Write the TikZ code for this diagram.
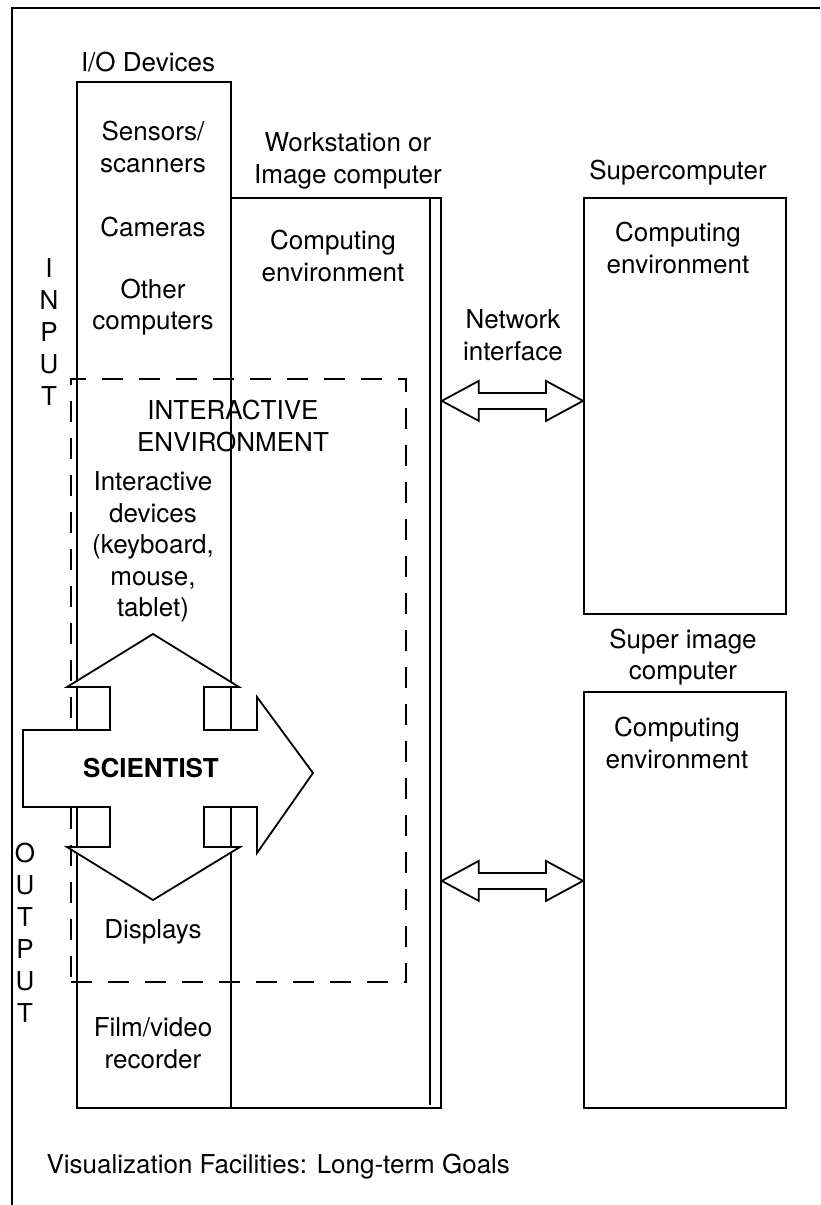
\documentclass[tikz,border=0pt]{standalone}
\usepackage{fontspec}
\setmainfont{TeX Gyre Heros}
\usetikzlibrary{positioning, calc}
\tikzstyle{box}=[rectangle, draw, line width=1.8pt, anchor=north west, inner sep=0pt]
\tikzstyle{dashedbox}=[line width=1.9pt, dash pattern=on 21pt off 16pt]
\tikzstyle{txt}=[align=center, font=\fontsize{26}{31.5}\selectfont]
\tikzstyle{boldtxt}=[align=center, font=\fontsize{26}{31.5}\selectfont\bfseries]
\tikzstyle{letters}=[align=center, font=\fontsize{26}{32}\selectfont]
\tikzstyle{linkarrow}=[draw, line width=1.8pt, fill=white, line join=miter]

% hollow two-headed arrow between two points of equal height
\newcommand{\netlink}[2]{%
  \draw[linkarrow] (#1) -- ++(37,-20) -- ++(0,12) -- ($(#2)+(-37,-8)$)
    -- ++(0,-12) -- (#2) -- ++(-37,20) -- ++(0,-12) -- ($(#1)+(37,8)$)
    -- ++(0,12) -- cycle;}

\begin{document}
\begin{tikzpicture}[x=1pt, y=-1pt]
    \useasboundingbox (0,0) rectangle (820,1205);
    % Frame
    \draw[line width=1.8pt] (820,8) -- (12,8) -- (12,1205);

    % Boxes
    \node[box, minimum width=154pt, minimum height=1026pt] (io) at (76,81) {};
    \node[box, minimum width=210pt, minimum height=910pt] (ws) at (230,197) {};
    \draw[line width=1.8pt] ([xshift=-12pt]ws.north east) -- ([xshift=-12pt, yshift=4pt]ws.south east);
    \node[box, minimum width=202pt, minimum height=416pt] (sup) at (583,197) {};
    \node[box, minimum width=202pt, minimum height=416pt] (simg) at (583,691) {};
    \node[box, dashedbox, minimum width=335pt, minimum height=603pt] (inter) at (70,378) {};

    % Scientist
    \draw[line width=1.8pt, fill=white, line join=miter]
        (23,730) -- (110,730) -- (110,687) -- (67,687) -- (153,634) -- (239,687)
        -- (204,687) -- (204,730) -- (257,730) -- (257,697) -- (313,773)
        -- (257,853) -- (257,807) -- (204,807) -- (204,847) -- (240,847)
        -- (153,900) -- (67,847) -- (110,847) -- (110,807) -- (23,807) -- cycle;
    \node[boldtxt] (sci) at (151,768) {SCIENTIST};

    % Network links
    \coordinate (linkAw) at ($(ws.east |- sup.west)+(0,-5)$);
    \coordinate (linkAe) at ($(sup.west)+(0,-5)$);
    \coordinate (linkBw) at ($(ws.east |- simg.west)+(0,-19)$);
    \coordinate (linkBe) at ($(simg.west)+(0,-19)$);
    \netlink{linkAw}{linkAe}
    \netlink{linkBw}{linkBe}

    % Labels
    \node[txt] (iolabel) at (148,62) {I/O Devices};
    \node[txt] (sensors) at (153,147) {Sensors/\\scanners};
    \node[txt] (cameras) at (153,227) {Cameras};
    \node[txt] (othercomp) at (153,307) {Other\\computers};
    \node[txt] (wslabel) at (348,161) {Workstation or\\Image computer};
    \node[txt] (wsenv) at (333,256) {Computing\\environment};
    \node[txt] (suplabel) at (678,173) {Supercomputer};
    \node[txt] (supenv) at (678,248) {Computing\\environment};
    \node[txt] (netlabel) at (513,335) {Network\\interface};
    \node[txt] (simglabel) at (683,657) {Super image\\computer};
    \node[txt] (simgenv) at (677,743) {Computing\\environment};
    \node[txt] (interlabel) at (233,426) {INTERACTIVE\\ENVIRONMENT};
    \node[txt] (intdev) at (153,547) {Interactive\\devices\\(keyboard,\\mouse,\\tablet)};
    \node[txt] (displays) at (153,932) {Displays};
    \node[txt] (film) at (153,1043) {Film/video\\recorder};
    \node[letters] (input) at (49,332) {I\\N\\P\\U\\T};
    \node[letters] (output) at (25,933) {O\\U\\T\\P\\U\\T};
    \node[txt, anchor=west] (caption) at (43,1167) {Visualization Facilities: Long-term Goals};
\end{tikzpicture}
\end{document}
